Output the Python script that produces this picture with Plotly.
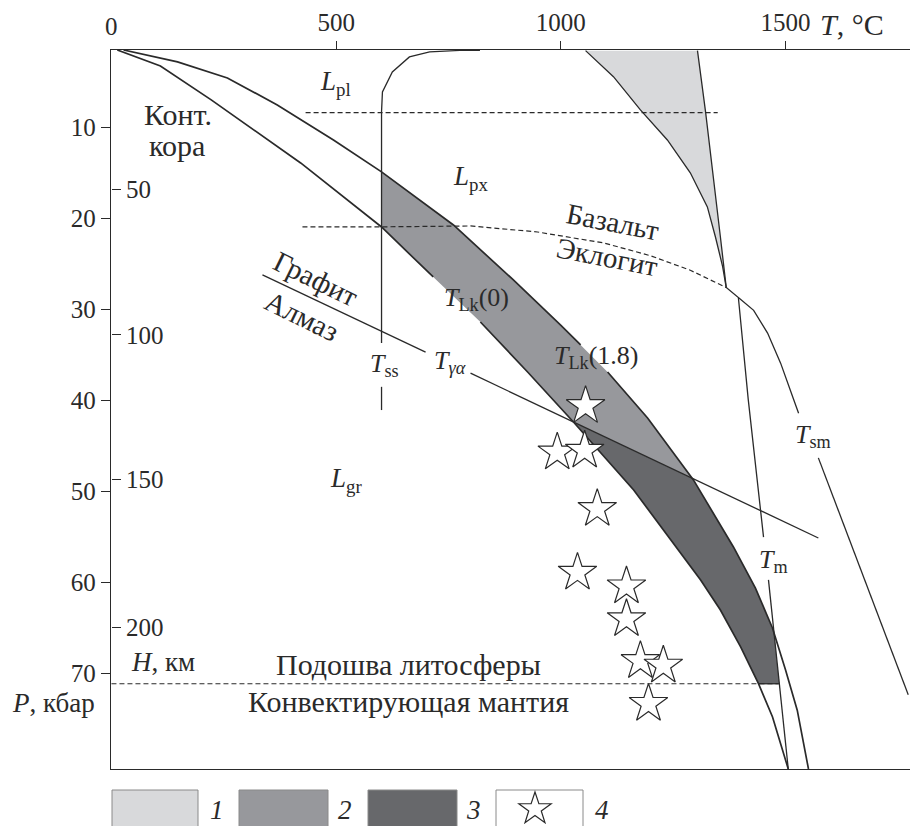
import numpy as np
import plotly.graph_objects as go

# ---------------- data (T in °C, P in kbar) ----------------
T_TICKS = [0, 500, 1000, 1500]
P_TICKS = [10, 20, 30, 40, 50, 60, 70]
H_TICK_TEXT = ["50", "100", "150", "200"]
H_TICK_P = [16.8, 32.8, 48.7, 64.9]

# geotherm T_Lk(0)
TLK0_T = [13, 109, 222, 327, 421, 601, 716, 821, 926, 1028, 1162, 1311, 1355, 1400, 1440, 1471, 1506]
TLK0_P = [1.52, 3.27, 7.0, 10.63, 13.92, 20.95, 26.44, 31.38, 36.87, 42.36, 49.83, 59.7, 63.0, 67.06, 71.12, 74.75, 80.46]
TLK0_GAP = (26.44, 31.38)

# geotherm T_Lk(1.8)
TLK18_T = [27, 147, 258, 369, 494, 601, 761, 892, 999, 1044, 1104, 1193, 1295, 1384, 1433, 1471, 1500, 1526, 1551]
TLK18_P = [1.52, 2.83, 4.59, 7.55, 11.4, 14.9, 20.73, 26.66, 31.71, 33.9, 36.87, 41.92, 48.72, 56.08, 60.6, 65.0, 69.6, 74.0, 80.46]
TLK18_GAP = (33.9, 36.87)

# T_ss
TSS_T = [601, 601, 601, 601, 603, 625, 663, 708, 775, 820]
TSS_P = [41.05, 38.5, 33.7, 8.3, 6.13, 3.93, 2.28, 1.73, 1.57, 1.55]
TSS_GAP = (33.7, 38.5)

# graphite / diamond  (T_γα)
GA_T = [336, 699, 799, 1573]
GA_P = [26.2, 34.7, 37.0, 55.1]
GA_GAP = (34.7, 37.0)

# T_m (with upper segment bounding field 1)
TM_T = [1304, 1322, 1355, 1368, 1395, 1417, 1451, 1462, 1506]
TM_P = [1.59, 8.32, 22.05, 27.6, 28.7, 39.9, 55.0, 59.7, 80.46]
TM_GAP = (55.0, 59.7)

# left boundary of field 1
BAS_T = [1055, 1117, 1177, 1237, 1288, 1326, 1344, 1360, 1368]
BAS_P = [1.59, 4.45, 8.1, 11.4, 15.0, 18.75, 22.05, 25.3, 27.6]

# T_sm
TSM_T = [1395, 1429, 1460, 1489, 1518, 1529, 1573, 1773]
TSM_P = [28.7, 30.1, 32.6, 35.9, 39.9, 41.4, 46.3, 72.3]
TSM_GAP = (41.4, 46.3)

# basalt / eclogite boundary (dashed)
BE_T = [425, 576, 799, 948, 1095, 1199, 1288, 1368]
BE_P = [20.95, 20.95, 20.84, 21.5, 22.7, 24.1, 25.7, 27.6]

# L_pl / L_px boundary (dashed)
LPL_T = [432, 1349]
LPL_P = [8.4, 8.4]

# base of lithosphere (dashed)
LB_T = [0, 1484]
LB_P = [71.1, 71.1]

# P-T estimates (stars)
STAR_T = [1055, 992, 1053, 1081, 1037, 1146, 1146, 1177, 1228, 1195]
STAR_P = [40.6, 45.7, 45.5, 51.9, 58.9, 60.4, 64.0, 68.6, 69.1, 73.3]

LEGEND_NUMS = ["1", "2", "3", "4"]

# ---------------- styling ----------------
FONT = "Liberation Serif"
INK = "#2a2a2a"
C1, C2, C3 = "#d8d9db", "#97989c", "#67686b"
X_RANGE = [-1, 1794.7]
Y_RANGE = [80.46, 1.52]


def gapped(T, P, gap):
    lo, hi = gap
    xs, ys, prev = [], [], None
    for t, p in zip(T, P):
        if lo < p < hi:
            continue
        side = p <= lo
        if prev is not None and side != prev:
            xs.append(None)
            ys.append(None)
        xs.append(t)
        ys.append(p)
        prev = side
    return xs, ys


def t_at(Tc, Pc, p):
    return float(np.interp(p, Pc, Tc))


def cross(T1, P1, T2, P2, lo, hi):
    f = lambda p: t_at(T1, P1, p) - t_at(T2, P2, p)
    a, b = lo, hi
    fa = f(a)
    for _ in range(80):
        m = 0.5 * (a + b)
        fm = f(m)
        if (fm > 0) == (fa > 0):
            a, fa = m, fm
        else:
            b = m
    return 0.5 * (a + b)


def seg(Tc, Pc, p0, p1):
    pts = [(t_at(Tc, Pc, p0), p0)]
    pts += [(t, p) for t, p in zip(Tc, Pc) if p0 < p < p1]
    pts.append((t_at(Tc, Pc, p1), p1))
    return pts


# intersections
pc = cross(TLK0_T, TLK0_P, GA_T, GA_P, 27, 55)
pb = cross(TLK18_T, TLK18_P, GA_T, GA_P, 27, 55)
pm = cross(TLK18_T, TLK18_P, TM_T[4:], TM_P[4:], 40, 80)
pa = float(np.interp(TSS_T[0], TLK18_T, TLK18_P))
pd = float(np.interp(TSS_T[0], TLK0_T, TLK0_P))
p_base = LB_P[0]

band2 = seg(TLK18_T, TLK18_P, pa, pb) + [(t_at(GA_T, GA_P, pc), pc)] + seg(TLK0_T, TLK0_P, pd, pc)[::-1]
band3 = ([(t_at(GA_T, GA_P, pc), pc)] + seg(TLK18_T, TLK18_P, pb, pm)
         + seg(TM_T[4:], TM_P[4:], pm, p_base)[1:]
         + seg(TLK0_T, TLK0_P, pc, p_base)[::-1])
band1 = list(zip(BAS_T, BAS_P)) + [(t, p) for t, p in zip(TM_T, TM_P) if p <= BAS_P[-1]][::-1]

fig = go.Figure()


def add_poly(pts, color):
    xs = [q[0] for q in pts] + [pts[0][0]]
    ys = [q[1] for q in pts] + [pts[0][1]]
    fig.add_trace(go.Scatter(x=xs, y=ys, mode="lines", fill="toself", fillcolor=color,
                             line=dict(width=0), hoverinfo="skip", showlegend=False))


add_poly(band1, C1)
add_poly(band2, C2)
add_poly(band3, C3)


def add_line(xs, ys, dash="solid", width=1.3):
    fig.add_trace(go.Scatter(x=xs, y=ys, mode="lines", line=dict(color=INK, width=width, dash=dash),
                             hoverinfo="skip", showlegend=False, connectgaps=False))


add_line(*gapped(TLK0_T, TLK0_P, TLK0_GAP), width=1.7)
add_line(*gapped(TLK18_T, TLK18_P, TLK18_GAP), width=1.7)
add_line(*gapped(TSS_T, TSS_P, TSS_GAP))
add_line(*gapped(GA_T, GA_P, GA_GAP))
add_line(*gapped(TM_T, TM_P, TM_GAP))
add_line(BAS_T, BAS_P)
add_line(*gapped(TSM_T, TSM_P, TSM_GAP))
add_line(BE_T, BE_P, dash="5px,3px", width=1.2)
add_line(LPL_T, LPL_P, dash="5px,3px", width=1.2)
add_line(LB_T, LB_P, dash="5px,3px", width=1.2)
add_line([t_at(TLK0_T, TLK0_P, p_base), t_at(TM_T[4:], TM_P[4:], p_base)], [p_base, p_base], width=1.3)

fig.add_trace(go.Scatter(x=STAR_T, y=STAR_P, mode="markers",
                         marker=dict(symbol="star", size=29, color="white", line=dict(color=INK, width=1.2)),
                         hoverinfo="skip", showlegend=False))

fig.add_trace(go.Scatter(x=[None], y=[None], yaxis="y2", showlegend=False, hoverinfo="skip"))

ann = []


def label(x, y, text, size=26, angle=0, xanchor="center", xref="x", yref="y", family=FONT):
    ann.append(dict(x=x, y=y, xref=xref, yref=yref, text=text, showarrow=False, textangle=angle,
                    xanchor=xanchor, yanchor="middle", font=dict(family=family, size=size, color=INK)))


label(498, 5.1, "<i>L</i><sub>pl</sub>", size=27)
label(799, 15.6, "<i>L</i><sub>px</sub>", size=27)
label(521, 48.7, "<i>L</i><sub>gr</sub>", size=27)
label(147, 8.55, "Конт.", size=30)
label(145, 11.95, "кора", size=30)
label(1117, 20.4, "Базальт", size=29, angle=11)
label(1104, 24.2, "Эклогит", size=29, angle=11)
label(456, 26.7, "Графит", size=29, angle=26)
label(423, 30.7, "Алмаз", size=29, angle=26)
label(812, 28.9, "<i>T</i><sub>Lk</sub>(0)")
label(1079, 35.2, "<i>T</i><sub>Lk</sub>(1.8)")
label(607, 36.1, "<i>T</i><sub>ss</sub>")
label(754, 35.8, "<i>T</i><sub><i>γα</i></sub>")
label(1562, 43.9, "<i>T</i><sub>sm</sub>")
label(1473, 57.6, "<i>T</i><sub>m</sub>")
label(661, 69.0, "Подошва литосферы", size=30)
label(661, 73.1, "Конвектирующая мантия", size=30)
label(38, 68.7, "<i>H</i>, км", size=27, xanchor="left")
label(-0.0173, 0.0918, "<i>P</i>, кбар", size=27, xanchor="right", xref="paper", yref="paper")
label(0.876, 1.035, "<i>T</i>, °C", size=30, xanchor="left", xref="paper", yref="paper")


# plot area = page px x 111..918, y 50..769
def px2paper(px, py):
    return (px - 111) / 807, (769 - py) / 719


# first T tick label (plotly suppresses the one at the corner)
zx, zy = px2paper(111, 27)
label(T_TICKS[0], zy, str(T_TICKS[0]), size=25, yref="paper")

# legend boxes, key star and numbers
shapes = []
boxes = [(112, 198, C1), (239, 328, C2), (368, 457, C3), (496, 583, "white")]
num_x = [217, 345, 473, 602]
for (x0, x1, col), nx, nm in zip(boxes, num_x, LEGEND_NUMS):
    a0, b0 = px2paper(x0, 790)
    a1, b1 = px2paper(x1, 845)
    shapes.append(dict(type="rect", xref="paper", yref="paper", layer="below",
                       x0=a0, x1=a1, y0=b0, y1=b1,
                       fillcolor=col, line=dict(color="#8a8a8a", width=1)))
    lx, ly = px2paper(nx, 810)
    label(lx, ly, "<i>%s</i>" % nm, size=27, xref="paper", yref="paper")

cx, cy, r_out, r_in = 535, 809, 17, 6.6
verts = []
for k in range(10):
    ang = np.radians(-90 + 36 * k)
    r = r_out if k % 2 == 0 else r_in
    verts.append(px2paper(cx + r * np.cos(ang), cy + r * np.sin(ang)))
star_path = "M " + " L ".join("%.5f,%.5f" % v for v in verts) + " Z"
shapes.append(dict(type="path", xref="paper", yref="paper", path=star_path,
                   fillcolor="white", line=dict(color=INK, width=1.2)))

axis_font = dict(family=FONT, size=25, color=INK)
# page body has an 8px margin: figure is shifted by 8px, so the plot area lands at x 111..918, y 50..769
fig.update_layout(
    width=910, height=818, autosize=False,
    margin=dict(l=103, r=0, t=42, b=57),
    paper_bgcolor="white", plot_bgcolor="white",
    xaxis=dict(range=X_RANGE, side="top", showline=True, linecolor=INK, linewidth=1.3, mirror=True,
               ticks="outside", ticklen=8, tickcolor=INK, tickwidth=1.2, tickvals=T_TICKS,
               ticklabeloverflow="allow",
               showgrid=False, zeroline=False, tickfont=axis_font),
    yaxis=dict(range=Y_RANGE, showline=True, linecolor=INK, linewidth=1.3,
               ticks="outside", ticklen=9, tickcolor=INK, tickwidth=1.2, tickvals=P_TICKS,
               showgrid=False, zeroline=False, tickfont=axis_font),
    yaxis2=dict(range=Y_RANGE, overlaying="y", side="left", anchor="free", position=0, showline=False,
                ticks="inside", ticklen=9, tickcolor=INK, tickwidth=1.2,
                tickvals=H_TICK_P, ticktext=H_TICK_TEXT, ticklabelposition="inside",
                ticklabelstandoff=7,
                showgrid=False, zeroline=False, tickfont=axis_font),
    annotations=ann, shapes=shapes, showlegend=False,
)

fig.write_html("out.html")
